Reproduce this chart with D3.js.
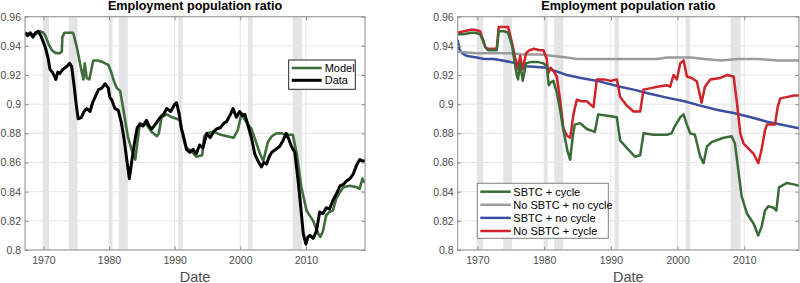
<!DOCTYPE html>
<html><head><meta charset="utf-8">
<script src="https://cdn.jsdelivr.net/npm/d3@7"></script>
<style>html,body{margin:0;padding:0;background:#fff}svg{display:block;font-family:"Liberation Sans",Arial,sans-serif}</style>
</head><body><svg id="c" width="800" height="283"></svg>
<script>
// ---------- data ----------
const xTicks = [1970, 1980, 1990, 2000, 2010];
const yTicks = [0.8, 0.82, 0.84, 0.86, 0.88, 0.9, 0.92, 0.94, 0.96];
const recessions = [[1969.92,1970.87],[1973.87,1975.2],[1980.0,1980.54],[1981.5,1982.87],[1990.54,1991.2],[2001.2,2001.87],[2007.95,2009.45]];
const titleText = "Employment population ratio";
const xLabel = "Date";

// Left panel
const dataYears = [1967.2,1967.6,1968.0,1968.4,1968.8,1969.2,1969.6,1970.3,1970.7,1971.0,1971.5,1971.9,1972.2,1972.5,1973.0,1973.6,1974.0,1974.3,1974.7,1975.0,1975.3,1975.8,1976.2,1976.6,1977.1,1977.5,1977.9,1978.4,1978.9,1979.4,1979.9,1980.1,1980.4,1980.9,1981.4,1981.9,1982.3,1982.7,1983.1,1983.5,1983.9,1984.3,1984.7,1985.2,1985.7,1986.1,1986.5,1987.2,1987.8,1988.3,1988.8,1989.4,1990.0,1990.3,1990.7,1991.0,1991.3,1991.8,1992.3,1992.8,1993.3,1993.8,1994.3,1994.9,1995.4,1995.9,1996.4,1997.0,1997.5,1997.9,1998.5,1998.9,1999.4,1999.9,2000.3,2000.7,2001.2,2001.7,2002.2,2002.7,2003.2,2003.6,2004.0,2004.4,2004.8,2005.4,2006.0,2006.5,2007.0,2007.4,2007.8,2008.3,2008.8,2009.2,2009.6,2010.0,2010.3,2010.6,2011.1,2011.6,2012.1,2012.6,2013.1,2013.6,2014.1,2014.6,2015.2,2015.7,2016.1,2016.7,2017.2,2017.7,2018.2,2018.6,2019.0];
const dataVals = [0.949,0.947,0.949,0.946,0.949,0.950,0.947,0.939,0.932,0.924,0.921,0.917,0.922,0.921,0.924,0.926,0.928,0.926,0.912,0.900,0.890,0.891,0.895,0.897,0.895,0.901,0.905,0.910,0.911,0.914,0.911,0.905,0.903,0.897,0.896,0.887,0.876,0.862,0.849,0.862,0.874,0.884,0.886,0.885,0.889,0.885,0.883,0.887,0.891,0.893,0.897,0.895,0.900,0.901,0.893,0.884,0.879,0.869,0.867,0.869,0.866,0.872,0.870,0.880,0.877,0.881,0.883,0.884,0.887,0.888,0.893,0.897,0.891,0.895,0.892,0.893,0.885,0.877,0.866,0.861,0.857,0.860,0.859,0.864,0.867,0.869,0.871,0.875,0.880,0.876,0.871,0.867,0.848,0.830,0.811,0.804,0.809,0.810,0.808,0.813,0.826,0.825,0.829,0.828,0.834,0.838,0.844,0.845,0.847,0.849,0.852,0.858,0.862,0.861,0.861];
const modelYears = [1967.2,1968.0,1968.8,1969.5,1970.0,1970.3,1970.8,1971.3,1971.9,1972.5,1972.8,1972.9,1973.2,1974.0,1974.5,1974.6,1975.1,1975.5,1975.8,1976.1,1976.3,1976.6,1977.0,1977.6,1978.3,1979.0,1979.4,1979.9,1980.4,1980.8,1981.2,1981.7,1982.2,1982.9,1983.5,1984.0,1984.5,1984.7,1985.2,1985.7,1986.5,1987.3,1987.6,1988.0,1988.8,1989.6,1990.3,1990.8,1991.3,1991.8,1992.5,1993.3,1994.2,1994.5,1994.9,1996.0,1997.0,1998.0,1999.0,1999.6,2000.2,2000.6,2001.2,2001.7,2002.4,2003.0,2003.5,2004.2,2004.8,2005.5,2006.3,2007.0,2008.0,2008.6,2009.3,2010.1,2011.1,2011.9,2012.2,2012.6,2013.1,2013.6,2014.1,2014.6,2015.1,2015.7,2016.7,2017.7,2018.2,2018.6,2019.0];
const modelVals = [0.949,0.948,0.948,0.950,0.949,0.947,0.941,0.937,0.935,0.935,0.936,0.946,0.949,0.949,0.949,0.948,0.939,0.930,0.923,0.917,0.928,0.918,0.917,0.930,0.930,0.929,0.928,0.927,0.921,0.915,0.911,0.909,0.896,0.877,0.868,0.862,0.880,0.887,0.886,0.886,0.881,0.878,0.880,0.891,0.893,0.891,0.890,0.889,0.877,0.870,0.868,0.864,0.865,0.878,0.880,0.881,0.879,0.878,0.877,0.882,0.894,0.890,0.886,0.883,0.874,0.866,0.861,0.874,0.878,0.880,0.880,0.879,0.879,0.866,0.843,0.827,0.820,0.811,0.809,0.813,0.824,0.826,0.827,0.835,0.839,0.843,0.844,0.843,0.842,0.849,0.846];

// Right panel
const sbtcCycleYears = [1967.05,1968.0,1969.0,1969.7,1970.4,1970.8,1971.2,1971.6,1972.9,1973.2,1974.0,1974.6,1975.2,1975.6,1975.9,1976.1,1976.4,1976.8,1977.3,1978.0,1979.0,1979.9,1980.4,1980.7,1981.0,1981.4,1981.9,1982.4,1982.9,1983.5,1983.9,1984.3,1984.6,1985.4,1986.4,1987.6,1988.1,1989.5,1990.9,1991.4,1992.4,1993.6,1994.4,1994.9,1996.4,1998.4,1999.1,1999.6,2000.4,2000.9,2001.4,2001.9,2002.6,2003.4,2003.9,2004.4,2005.1,2006.9,2008.1,2008.6,2009.1,2009.6,2010.4,2011.4,2012.1,2012.6,2013.1,2013.6,2014.4,2014.8,2015.2,2016.4,2017.4,2018.2];
const sbtcCycleVals = [0.948,0.948,0.949,0.949,0.948,0.944,0.939,0.937,0.937,0.950,0.950,0.949,0.940,0.928,0.920,0.917,0.928,0.916,0.928,0.929,0.929,0.928,0.926,0.913,0.915,0.916,0.908,0.896,0.882,0.868,0.862,0.878,0.886,0.887,0.883,0.881,0.893,0.892,0.891,0.875,0.870,0.864,0.865,0.880,0.879,0.879,0.880,0.885,0.891,0.893,0.886,0.880,0.879,0.864,0.8595,0.871,0.874,0.877,0.878,0.873,0.855,0.837,0.825,0.818,0.810,0.816,0.827,0.830,0.829,0.827,0.843,0.846,0.845,0.844];
const noSbtcNoCycleYears = [1967.05,1969.9,1972.0,1974.9,1977.0,1979.5,1981.4,1983.4,1985.0,1988.4,1991.0,1994.0,1997.0,1998.4,2000.4,2002.0,2004.0,2006.5,2009.0,2012.0,2015.0,2018.2];
const noSbtcNoCycleVals = [0.936,0.935,0.935,0.935,0.934,0.934,0.933,0.932,0.931,0.931,0.931,0.931,0.931,0.932,0.932,0.932,0.931,0.930,0.931,0.931,0.930,0.930];
const sbtcNoCycleYears = [1967.05,1967.3,1967.7,1968.5,1969.9,1971.0,1972.5,1974.9,1977.4,1980.4,1981.5,1983.4,1985.5,1988.4,1991.4,1993.4,1996.0,1998.4,2001.0,2003.4,2006.0,2008.4,2011.0,2013.4,2016.0,2018.2];
const sbtcNoCycleVals = [0.944,0.938,0.935,0.933,0.932,0.931,0.931,0.929,0.926,0.925,0.923,0.920,0.918,0.9155,0.912,0.910,0.907,0.9045,0.902,0.899,0.896,0.894,0.891,0.888,0.8855,0.8834];
const noSbtcCycleYears = [1967.05,1968.0,1969.0,1969.7,1970.4,1970.8,1971.2,1971.6,1972.5,1972.9,1973.2,1974.0,1974.6,1975.2,1975.6,1975.9,1976.1,1976.4,1976.8,1977.3,1977.8,1978.5,1979.3,1979.9,1980.4,1980.6,1981.0,1981.5,1981.9,1982.4,1982.9,1983.5,1983.9,1984.4,1984.9,1985.6,1986.4,1987.4,1987.9,1989.0,1990.0,1990.9,1991.4,1992.4,1993.4,1994.4,1994.9,1996.0,1997.0,1998.4,1998.9,1999.4,1999.9,2000.4,2000.9,2001.4,2002.1,2002.9,2003.6,2004.1,2004.9,2006.4,2007.4,2008.4,2008.9,2009.4,2009.9,2011.4,2012.1,2012.6,2013.1,2013.4,2014.6,2015.0,2015.4,2016.5,2017.5,2018.2];
const noSbtcCycleVals = [0.949,0.950,0.951,0.951,0.950,0.945,0.939,0.938,0.938,0.938,0.953,0.953,0.953,0.942,0.933,0.928,0.924,0.933,0.924,0.935,0.937,0.938,0.937,0.937,0.931,0.921,0.925,0.922,0.919,0.903,0.883,0.878,0.877,0.893,0.903,0.902,0.902,0.898,0.917,0.917,0.916,0.917,0.905,0.899,0.895,0.895,0.910,0.911,0.912,0.913,0.912,0.920,0.917,0.928,0.930,0.919,0.918,0.9155,0.901,0.912,0.917,0.918,0.920,0.919,0.901,0.880,0.873,0.866,0.8595,0.869,0.882,0.886,0.886,0.898,0.904,0.905,0.906,0.906];

const leftSeries = [
  {name:"Model", years:modelYears, vals:modelVals, color:"#3f6e3c", w:2.6},
  {name:"Data", years:dataYears, vals:dataVals, color:"#000000", w:3}
];
const rightSeries = [
  {name:"SBTC + cycle", years:sbtcCycleYears, vals:sbtcCycleVals, color:"#3a6b37", w:2.5},
  {name:"No SBTC + no cycle", years:noSbtcNoCycleYears, vals:noSbtcNoCycleVals, color:"#9b9b9b", w:2.5},
  {name:"SBTC + no cycle", years:sbtcNoCycleYears, vals:sbtcNoCycleVals, color:"#3c4ea0", w:2.5},
  {name:"No SBTC + cycle", years:noSbtcCycleYears, vals:noSbtcCycleVals, color:"#cf2329", w:2.5}
];
const rightDrawOrder = [2,1,3,0];

// ---------- drawing ----------
const svg = d3.select("#c");
svg.append("rect").attr("width",800).attr("height",283).attr("fill","#fff");
const FONT = "'Liberation Sans',Arial,sans-serif";

function panel(cfg){
  const x = d3.scaleLinear().domain(cfg.domain).range([cfg.x0, cfg.x1]);
  const y = d3.scaleLinear().domain([0.8,0.96]).range([250,16.7]);
  const g = svg.append("g");
  const clipId = "clip"+cfg.id;
  svg.append("clipPath").attr("id",clipId).append("rect")
    .attr("x",cfg.x0).attr("y",16.7).attr("width",cfg.x1-cfg.x0).attr("height",250-16.7);
  const inner = g.append("g").attr("clip-path","url(#"+clipId+")");
  inner.selectAll("rect.rec").data(recessions).join("rect")
    .attr("x",d=>x(d[0])).attr("width",d=>x(d[1])-x(d[0]))
    .attr("y",16.7).attr("height",250-16.7).attr("fill","#e3e4e6");
  inner.selectAll("line.gx").data(xTicks).join("line")
    .attr("x1",d=>x(d)).attr("x2",d=>x(d)).attr("y1",16.7).attr("y2",250)
    .attr("stroke","#e6e6e6").attr("stroke-width",1);
  inner.selectAll("line.gy").data(yTicks).join("line")
    .attr("x1",cfg.x0).attr("x2",cfg.x1).attr("y1",d=>y(d)).attr("y2",d=>y(d))
    .attr("stroke","#e6e6e6").attr("stroke-width",1);
  const line = d3.line().x(d=>x(d[0])).y(d=>y(d[1])).curve(d3.curveLinear);
  cfg.order.forEach(i=>{
    const s = cfg.series[i];
    inner.append("path").datum(s.years.map((yr,k)=>[yr,s.vals[k]]))
      .attr("d",line).attr("fill","none").attr("stroke",s.color)
      .attr("stroke-width",s.w).attr("stroke-linejoin","round");
  });
  g.append("rect").attr("x",cfg.x0).attr("y",16.7).attr("width",cfg.x1-cfg.x0).attr("height",250-16.7)
    .attr("fill","none").attr("stroke","#8c8c8c").attr("stroke-width",1);
  const ax = g.append("g").attr("transform","translate(0,250)")
    .call(d3.axisBottom(x).tickValues(xTicks).tickFormat(d3.format("d")).tickSizeInner(-3.5).tickSizeOuter(0).tickPadding(7));
  ax.select(".domain").remove();
  ax.selectAll("line").attr("stroke","#8c8c8c");
  ax.selectAll("text").attr("fill","#4d4d4d").style("font-size","10.5px").style("font-family",FONT);
  const axT = g.append("g").attr("transform","translate(0,16.7)")
    .call(d3.axisTop(x).tickValues(xTicks).tickFormat("").tickSizeInner(-3.5).tickSizeOuter(0));
  axT.select(".domain").remove(); axT.selectAll("line").attr("stroke","#8c8c8c");
  const ay = g.append("g").attr("transform","translate("+cfg.x0+",0)")
    .call(d3.axisLeft(y).tickValues(yTicks).tickFormat(d=>String(+d.toFixed(2))).tickSizeInner(-3.5).tickSizeOuter(0).tickPadding(4));
  ay.select(".domain").remove();
  ay.selectAll("line").attr("stroke","#8c8c8c");
  ay.selectAll("text").attr("fill","#4d4d4d").style("font-size","10.5px").style("font-family",FONT);
  const ayR = g.append("g").attr("transform","translate("+cfg.x1+",0)")
    .call(d3.axisRight(y).tickValues(yTicks).tickFormat("").tickSizeInner(-3.5).tickSizeOuter(0));
  ayR.select(".domain").remove(); ayR.selectAll("line").attr("stroke","#8c8c8c");
  g.append("text").attr("x",(cfg.x0+cfg.x1)/2).attr("y",10.3).attr("text-anchor","middle")
    .style("font-size","12.6px").style("font-weight","bold").attr("fill","#000").text(titleText);
  g.append("text").attr("x",(cfg.x0+cfg.x1)/2).attr("y",281.5).attr("text-anchor","middle")
    .style("font-size","14.5px").attr("fill","#4d4d4d").text(xLabel);
  const L = cfg.legend;
  const lg = g.append("g");
  lg.append("rect").attr("x",L.x).attr("y",L.y).attr("width",L.w).attr("height",L.h)
    .attr("fill","#fff").attr("stroke",L.border).attr("stroke-width",1);
  cfg.series.forEach((s,i)=>{
    const yy = L.y + L.first + i*L.step;
    lg.append("line").attr("x1",L.x+L.lx1).attr("x2",L.x+L.lx2).attr("y1",yy).attr("y2",yy)
      .attr("stroke",s.color).attr("stroke-width",s.w);
    lg.append("text").attr("x",L.x+L.tx).attr("y",yy).attr("dy","0.35em")
      .style("font-size",L.fs).attr("fill","#000").text(s.name);
  });
}

panel({id:"L", x0:25, x1:365, domain:[1967.2,2019], series:leftSeries, order:[0,1],
  legend:{x:288.7,y:60,w:66.6,h:29.3,first:8,step:12.3,lx1:3,lx2:33,tx:36,fs:"11px",border:"#262626"}});
panel({id:"R", x0:457.7, x1:799, domain:[1967.05,2018.2], series:rightSeries, order:rightDrawOrder,
  legend:{x:477.3,y:183.3,w:131,h:55,first:8.4,step:13.1,lx1:3,lx2:33.5,tx:36,fs:"11px",border:"#808080"}});
</script></body></html>
